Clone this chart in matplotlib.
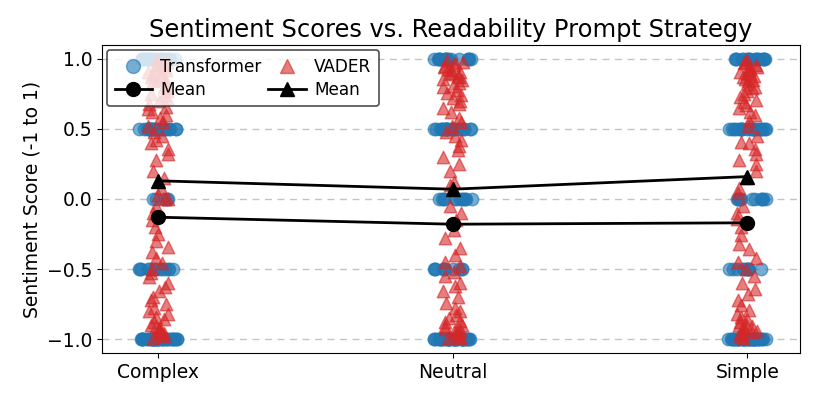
import matplotlib
matplotlib.use("Agg")
import matplotlib.pyplot as plt
from matplotlib.lines import Line2D
import seaborn as sns
import pandas as pd

categories = ["Complex", "Neutral", "Simple"]
score_levels = [-1.0, -0.5, 0.0, 0.5, 1.0]

# transformer counts per score level, one row per category
transformer_counts = [
    [38, 13, 5, 24, 20],
    [40, 10, 12, 22, 16],
    [40, 10, 11, 22, 17],
]

vader_complex = [
    0.99, 0.98, 0.97, 0.96, 0.96, 0.95, 0.94, 0.93, 0.92, 0.91, 0.90, 0.89,
    0.88, 0.87, 0.86, 0.85, 0.84, 0.82, 0.80, 0.79, 0.77, 0.75, 0.74, 0.72,
    0.70, 0.68, 0.66, 0.64, 0.62, 0.60, 0.58, 0.55, 0.52, 0.48, 0.45, 0.42,
    0.40, 0.36, 0.32, 0.28, 0.20, 0.15, 0.08, 0.03, 0.0, 0.0,
    -0.05, -0.10, -0.15, -0.20, -0.25, -0.30, -0.34, -0.38, -0.42, -0.46,
    -0.50, -0.53, -0.56, -0.60, -0.63, -0.66, -0.70, -0.72, -0.75, -0.78,
    -0.80, -0.82, -0.84, -0.86, -0.88, -0.90, -0.91, -0.92, -0.93, -0.94,
    -0.95, -0.96, -0.97, -0.98, -0.99,
]
vader_neutral = [
    0.99, 0.98, 0.97, 0.96, 0.95, 0.94, 0.93, 0.92, 0.91, 0.90, 0.89, 0.88,
    0.87, 0.86, 0.85, 0.83, 0.81, 0.80, 0.78, 0.76, 0.74, 0.72, 0.70, 0.68,
    0.65, 0.62, 0.58, 0.55, 0.52, 0.48, 0.45, 0.42, 0.38, 0.35, 0.30, 0.25,
    0.20, 0.12, 0.10,
    -0.05, -0.10, -0.15, -0.22, -0.28, -0.35, -0.40, -0.45, -0.48, -0.52,
    -0.55, -0.60, -0.62, -0.66, -0.70, -0.74, -0.78, -0.80, -0.83, -0.85,
    -0.87, -0.88, -0.90, -0.91, -0.92, -0.93, -0.94, -0.95, -0.96, -0.97,
    -0.98, -0.99, -0.99,
]
vader_simple = [
    0.99, 0.98, 0.97, 0.96, 0.95, 0.94, 0.93, 0.92, 0.91, 0.90, 0.89, 0.88,
    0.87, 0.86, 0.85, 0.84, 0.82, 0.80, 0.79, 0.77, 0.75, 0.73, 0.71, 0.69,
    0.67, 0.65, 0.62, 0.60, 0.56, 0.52, 0.45, 0.41, 0.40, 0.36, 0.32, 0.28,
    0.25, 0.20, 0.15, 0.08, 0.04,
    -0.05, -0.10, -0.14, -0.20, -0.26, -0.32, -0.36, -0.42, -0.45, -0.50,
    -0.55, -0.60, -0.64, -0.68, -0.72, -0.76, -0.79, -0.82, -0.84, -0.86,
    -0.88, -0.89, -0.90, -0.91, -0.92, -0.93, -0.94, -0.95, -0.96, -0.97,
    -0.98, -0.99,
]

transformer_means = [-0.13, -0.18, -0.17]
vader_means = [0.13, 0.07, 0.16]

# long-format tables for stripplot
t_rows = []
for cat, counts in zip(categories, transformer_counts):
    for level, n in zip(score_levels, counts):
        t_rows += [(cat, level)] * n
df_t = pd.DataFrame(t_rows, columns=["strategy", "score"])

v_rows = []
for cat, vals in zip(categories, [vader_complex, vader_neutral, vader_simple]):
    v_rows += [(cat, v) for v in vals]
df_v = pd.DataFrame(v_rows, columns=["strategy", "score"])

fig, ax = plt.subplots(figsize=(8.15, 3.98), dpi=100)

sns.stripplot(data=df_t, x="strategy", y="score", order=categories, ax=ax,
              color="tab:blue", marker="o", size=9, alpha=0.6, jitter=0.065,
              linewidth=1, edgecolor="tab:blue", zorder=2)
sns.stripplot(data=df_v, x="strategy", y="score", order=categories, ax=ax,
              color="tab:red", marker="^", size=9, alpha=0.6, jitter=0.035,
              linewidth=1, edgecolor="tab:red", zorder=3)

ax.plot(range(3), transformer_means, color="black", marker="o",
        markersize=10, linewidth=2, zorder=5)
ax.plot(range(3), vader_means, color="black", marker="^",
        markersize=10, linewidth=2, zorder=5)

handles = [
    Line2D([], [], linestyle="none", marker="o", markersize=10,
           color="tab:blue", alpha=0.6),
    Line2D([], [], color="black", marker="o", markersize=10, linewidth=2),
    Line2D([], [], linestyle="none", marker="^", markersize=10,
           color="tab:red", alpha=0.6),
    Line2D([], [], color="black", marker="^", markersize=10, linewidth=2),
]
labels = ["Transformer", "Mean", "VADER", "Mean"]
leg = ax.legend(handles, labels, loc="upper left", ncol=2, fontsize=12.2,
                handlelength=2.2, borderpad=0.45, labelspacing=0.3,
                columnspacing=0.4, borderaxespad=0.3, handletextpad=0.5,
                framealpha=0.8)
leg.get_frame().set_edgecolor("#222222")
leg.get_frame().set_linewidth(1.2)

ax.set_xlim(-0.19, 2.18)
ax.set_ylim(-1.1, 1.1)
ax.set_yticks([-1.0, -0.5, 0.0, 0.5, 1.0])
ax.yaxis.grid(True, linestyle=(0, (5, 4)), color="#c4c4c4", linewidth=1)
ax.set_axisbelow(True)
ax.set_xlabel("")
ax.set_ylabel("Sentiment Score (-1 to 1)", fontsize=13.5)
ax.tick_params(labelsize=13.5)
ax.set_title("Sentiment Scores vs. Readability Prompt Strategy", fontsize=17.4)

fig.subplots_adjust(left=0.125, right=0.982, top=0.887, bottom=0.113)
plt.savefig("out.png")
